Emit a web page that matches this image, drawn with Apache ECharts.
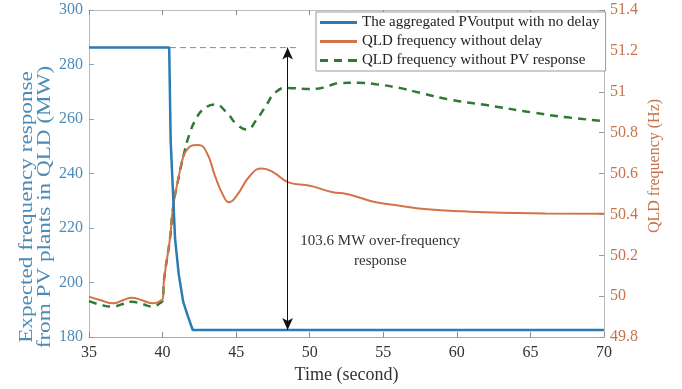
<!DOCTYPE html>
<html>
<head>
<meta charset="utf-8">
<script src="https://cdn.jsdelivr.net/npm/echarts@6/dist/echarts.min.js"></script>
<style>html,body{margin:0;padding:0;background:#fff;}#c{width:682px;height:389px;}</style>
</head>
<body>
<div id="c"></div>
<script>
// ---- data ----
var seriesNames = ['The aggregated PVoutput with no delay', 'QLD frequency without delay', 'QLD frequency without PV response'];
var xTicks = [35, 40, 45, 50, 55, 60, 65, 70];
var leftTicks = [180, 200, 220, 240, 260, 280, 300];
var rightTicks = [49.8, 50, 50.2, 50.4, 50.6, 50.8, 51, 51.2, 51.4];

var pvTime = [35, 40.45, 40.55, 40.85, 41.1, 41.4, 41.7, 42.05, 70];
var pvMW   = [286.2, 286.2, 252, 216, 203, 193, 188, 182.6, 182.6];

var freqTime = [35, 35.8, 36.65, 37.3, 37.9, 38.6, 39.37, 39.9, 40.02, 40.1, 40.5, 40.73, 41.07, 41.41, 41.75, 42.09, 42.43, 43.0, 43.56, 44.13, 44.51, 45.04, 45.94, 46.74, 47.53, 48.55, 50.02, 51.5, 52.5, 53.3, 54.5, 56.1, 58, 60.7, 63, 66, 70];
var freqHz   = [49.998, 49.98, 49.965, 49.98, 49.993, 49.98, 49.965, 49.98, 49.99, 50.08, 50.28, 50.443, 50.573, 50.683, 50.725, 50.738, 50.74, 50.703, 50.589, 50.492, 50.46, 50.492, 50.589, 50.625, 50.606, 50.557, 50.54, 50.51, 50.5, 50.484, 50.46, 50.443, 50.425, 50.414, 50.408, 50.405, 50.403];

var noPvTime = [35, 35.8, 36.6, 37.3, 37.9, 38.6, 39.3, 39.9, 40.02, 40.1, 40.5, 40.73, 41.07, 41.41, 41.86, 42.3, 42.77, 43.56, 44.36, 45.04, 45.72, 46.4, 47.08, 47.64, 48.43, 49.79, 50.6, 51.3, 52.1, 53.3, 54.5, 56, 57.5, 59.5, 62, 65.2, 67.5, 70];
var noPvHz   = [49.976, 49.958, 49.949, 49.962, 49.973, 49.962, 49.95, 49.97, 49.98, 50.08, 50.28, 50.443, 50.573, 50.683, 50.8, 50.87, 50.914, 50.938, 50.898, 50.841, 50.816, 50.865, 50.938, 50.995, 51.019, 51.014, 51.016, 51.03, 51.043, 51.044, 51.037, 51.02, 50.995, 50.962, 50.935, 50.898, 50.875, 50.857];

var refTime = [40.5, 49.1];        // dashed reference line (MW level before drop)
var refMW = [286.2, 286.2];
var arrowTime = 48.5;
var arrowMW = [286.2, 182.6];
var annotText = '103.6 MW over-frequency\nresponse';
var annotPos = [54.8, 211.5];

function pairs(xs, ys) { return xs.map(function (x, i) { return [x, ys[i]]; }); }

var FONT = '"Liberation Serif", "Times New Roman", serif';
var BLUE = '#2a7cb3', ORANGE = '#d2734a', GREEN = '#2e7a30';
var LBLUE = '#4d8cb8', LORANGE = '#c4744d';
var ICON_SOLID = 'path://M0,0H37V3H0Z';
var ICON_DASH = 'path://M0,0H8V3H0Z M14,0H22V3H14Z M28,0H37V3H28Z';

var chart = echarts.init(document.getElementById('c'), null, {renderer: 'canvas'});
chart.setOption({
  animation: false,
  backgroundColor: '#fff',
  grid: {left: 89, right: 78, top: 10, bottom: 50},
  legend: {
    data: [
      {name: seriesNames[0], icon: ICON_SOLID},
      {name: seriesNames[1], icon: ICON_SOLID},
      {name: seriesNames[2], icon: ICON_DASH}
    ],
    orient: 'vertical',
    left: 316, top: 12,
    itemWidth: 37, itemHeight: 3, itemGap: 4,
    padding: [3, 6, 3, 4],
    backgroundColor: '#fff',
    borderColor: '#999', borderWidth: 1,
    textStyle: {fontFamily: FONT, fontSize: 15, color: '#222', lineHeight: 15}
  },
  xAxis: [{
    type: 'value', min: xTicks[0], max: xTicks[xTicks.length - 1], interval: 5,
    name: 'Time (second)', nameLocation: 'middle', nameGap: 28,
    nameTextStyle: {fontFamily: FONT, fontSize: 18, color: '#333'},
    axisLine: {lineStyle: {color: '#aaa'}},
    axisTick: {inside: true, length: 5, lineStyle: {color: '#888'}},
    axisLabel: {fontFamily: FONT, fontSize: 16, color: '#333', margin: 8},
    splitLine: {show: false}
  }, {
    type: 'value', position: 'top', min: xTicks[0], max: xTicks[xTicks.length - 1], interval: 5,
    axisLine: {show: true, lineStyle: {color: '#bbb'}},
    axisTick: {inside: true, length: 5, lineStyle: {color: '#888'}},
    axisLabel: {show: false}, splitLine: {show: false}
  }],
  yAxis: [{
    type: 'value', min: leftTicks[0], max: leftTicks[leftTicks.length - 1], interval: 20,
    axisLine: {show: true, lineStyle: {color: '#9cc0da'}},
    axisTick: {show: true, inside: true, length: 5, lineStyle: {color: '#7aa8c8'}},
    axisLabel: {fontFamily: FONT, fontSize: 16, color: LBLUE, margin: 6},
    splitLine: {show: false}
  }, {
    type: 'value', position: 'right', min: rightTicks[0], max: rightTicks[rightTicks.length - 1], interval: 0.2,
    axisLine: {show: true, lineStyle: {color: '#bbb'}},
    axisTick: {show: true, inside: true, length: 5, lineStyle: {color: '#999'}},
    axisLabel: {fontFamily: FONT, fontSize: 16, color: LORANGE, margin: 6,
      formatter: function (v) { return String(+v.toFixed(1)); }},
    splitLine: {show: false}
  }],
  graphic: [{
    type: 'text', x: 36, y: 207, rotation: Math.PI / 2, scaleX: 1.22, scaleY: 1,
    style: {text: 'Expected frequency response\nfrom PV plants in QLD (MW)', font: '19px ' + FONT,
      fill: LBLUE, align: 'center', verticalAlign: 'middle', lineHeight: 18}
  }, {
    type: 'text', x: 655, y: 166, rotation: Math.PI / 2,
    style: {text: 'QLD frequency (Hz)', font: '16px ' + FONT,
      fill: LORANGE, align: 'center', verticalAlign: 'middle'}
  }],
  series: [{
    name: seriesNames[0], type: 'line', xAxisIndex: 0, yAxisIndex: 0,
    data: pairs(pvTime, pvMW), symbol: 'none', smooth: false, z: 4,
    lineStyle: {color: BLUE, width: 2.5}, itemStyle: {color: BLUE}
  }, {
    name: seriesNames[1], type: 'line', xAxisIndex: 0, yAxisIndex: 1,
    data: pairs(freqTime, freqHz), symbol: 'none', smooth: 0.5, z: 3,
    lineStyle: {color: ORANGE, width: 2}, itemStyle: {color: ORANGE}
  }, {
    name: seriesNames[2], type: 'line', xAxisIndex: 0, yAxisIndex: 1,
    data: pairs(noPvTime, noPvHz), symbol: 'none', smooth: 0.5, z: 2,
    lineStyle: {color: GREEN, width: 2.5, type: [8, 6]}, itemStyle: {color: GREEN}
  }, {
    name: 'ref', type: 'line', xAxisIndex: 0, yAxisIndex: 0,
    data: pairs(refTime, refMW), symbol: 'none', z: 1,
    lineStyle: {color: '#888', width: 1, type: [6, 4]},
    markLine: {
      silent: true, symbol: ['arrow', 'arrow'], symbolSize: [8, 12],
      lineStyle: {color: '#111', width: 1, type: 'solid'},
      label: {show: false},
      data: [[{coord: [arrowTime, arrowMW[0]]}, {coord: [arrowTime, arrowMW[1]]}]]
    },
    markPoint: {
      silent: true, symbol: 'circle', symbolSize: 0,
      label: {show: true, formatter: annotText, fontFamily: FONT, fontSize: 15, color: '#333',
        lineHeight: 20, align: 'center', verticalAlign: 'middle'},
      data: [{coord: annotPos}]
    }
  }]
});
</script>
</body>
</html>
